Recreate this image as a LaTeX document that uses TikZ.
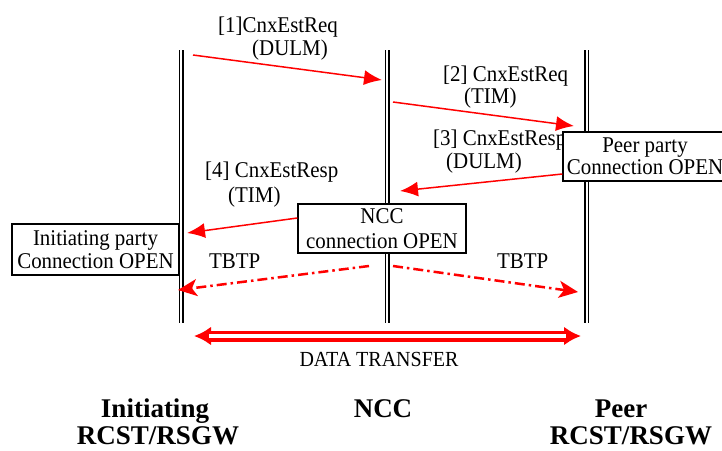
\documentclass[tikz,border=0pt]{standalone}
\usepackage{fontspec}
\setmainfont{Liberation Serif}[FakeStretch=0.93]
\newfontfamily\titlefont{Liberation Serif}
\usetikzlibrary{arrows.meta}
\begin{document}
\begin{tikzpicture}[x=1pt,y=-1pt,
  lifeline/.style={draw=black, line width=1.5pt, double=white, double distance=2pt},
  msg/.style={draw=red, line width=1.5pt, -{Latex[length=18pt,width=15pt]}},
  tbtp/.style={draw=red, line width=2.5pt, dash pattern=on 10pt off 4pt on 2.5pt off 4pt, -{Stealth[length=19pt,width=17pt,inset=5pt]}},
  lbl/.style={font=\fontsize{22.5}{23}\selectfont, inner sep=0pt, anchor=base west},
  statebox/.style={draw=black, line width=1.3pt, fill=white, inner sep=0pt, align=center},
  title/.style={font=\titlefont\fontsize{27}{21}\selectfont\bfseries, inner sep=0pt, anchor=base}]
\useasboundingbox (0,0) rectangle (722,450);

% lifelines
\coordinate (Lt) at (181,50);   \coordinate (Lb) at (181,323);
\coordinate (Nt) at (387,50);   \coordinate (Nb) at (387,323);
\coordinate (Pt) at (586.5,50); \coordinate (Pb) at (586.5,323);
\draw[lifeline] (Lt) -- (Lb);
\draw[lifeline] (Nt) -- (Nb);
\draw[lifeline] (Pt) -- (Pb);

% labels
\node[lbl] (l1a) at (218,32) {[1]CnxEstReq};
\node[lbl] (l1b) at (252,55) {(DULM)};
\node[lbl] (l2a) at (443,81) {[2] CnxEstReq};
\node[lbl] (l2b) at (464,103) {(TIM)};
\node[lbl] (l3a) at (433,145) {[3] CnxEstResp};
\node[lbl] (l3b) at (446,168) {(DULM)};
\node[lbl] (l4a) at (205,177) {[4] CnxEstResp};
\node[lbl] (l4b) at (228,202) {(TIM)};
\node[lbl] (tb1) at (209,268) {TBTP};
\node[lbl] (tb2) at (497,268) {TBTP};

% boxes
\node[statebox, minimum width=167pt, minimum height=51pt, font=\fontsize{22.5}{23}\selectfont] (ipbox) at (95.5,249.5) {Initiating party\\Connection OPEN};
\node[statebox, minimum width=168pt, minimum height=49pt, font=\fontsize{22.5}{25}\selectfont] (nccbox) at (382,228.5) {NCC\\connection OPEN};
\node[statebox, minimum width=164pt, minimum height=49pt, font=\fontsize{22.5}{22}\selectfont] (peerbox) at (645,156.5) {Peer party\\Connection OPEN};

% messages
\coordinate (a1s) at (193,55);  \coordinate (a1e) at (382,80);
\coordinate (a2s) at (393,102); \coordinate (a2e) at (574,126);
\coordinate (a3s) at (peerbox.west |- 0,174); \coordinate (a3e) at (400,191);
\coordinate (a4s) at (nccbox.west |- 0,218); \coordinate (a4e) at (187,233);
\draw[msg] (a1s) -- (a1e);
\draw[msg] (a2s) -- (a2e);
\draw[msg] (a3s) -- (a3e);
\draw[msg] (a4s) -- (a4e);

% TBTP
\coordinate (t1s) at (369,266); \coordinate (t1e) at (178,290);
\coordinate (t2s) at (393,266); \coordinate (t2e) at (578,292);
\draw[tbtp] (t1s) -- (t1e);
\draw[tbtp] (t2s) -- (t2e);

% data transfer
\coordinate (d1) at (194,336); \coordinate (d2) at (581,336);
\draw[red, line width=11pt, {Latex[length=17pt,width=19pt]}-{Latex[length=17pt,width=19pt]}] (d1) -- (d2);
\draw[white, line width=3.5pt, shorten <=15pt, shorten >=15pt] (d1) -- (d2);
\node[font=\fontsize{21.5}{22}\selectfont, inner sep=0pt, anchor=base] (dt) at (379,366) {DATA TRANSFER};

% titles
\node[title] (tI) at (155,417) {Initiating};
\node[title] (tIr) at (158,444) {RCST/RSGW};
\node[title] (tN) at (383,417) {NCC};
\node[title] (tP) at (621,417) {Peer};
\node[title] (tPr) at (631,444) {RCST/RSGW};
\end{tikzpicture}
\end{document}
